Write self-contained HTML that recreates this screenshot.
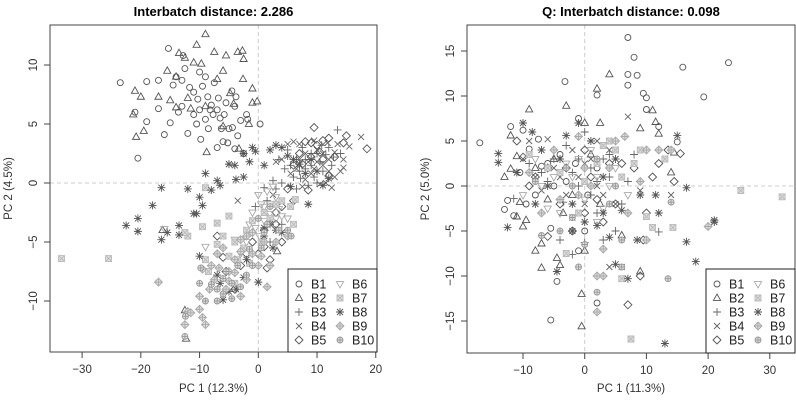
<!DOCTYPE html>
<html><head><meta charset="utf-8"><style>
html,body{margin:0;padding:0;background:#fff;}
svg{display:block;font-family:"Liberation Sans",Arial,sans-serif;}
</style></head><body>
<svg id="chart" width="796" height="405" viewBox="0 0 796 405"></svg>
<script>
const batchNames=["B1","B2","B3","B4","B5","B6","B7","B8","B9","B10"];
const leftTitle="Interbatch distance: 2.286";
const rightTitle="Q: Interbatch distance: 0.098";
const leftXTicks=[-30,-20,-10,0,10,20];
const leftYTicks=[-10,-5,0,5,10];
const rightXTicks=[-10,0,10,20,30];
const rightYTicks=[-15,-10,-5,0,5,10,15];
const leftB1=[[-23.5,8.5],[-21,6],[-20.5,2.1],[-19,8.6],[-19,5.2],[-17,6.3],[-17,8.7],[-16,4.1],[-15,5.1],[-15.3,11.4],[-14,9],[-13,8.7],[-13,6.5],[-12.8,10.8],[-12,4.2],[-11.7,8.1],[-11,7.7],[-10,9.4],[-10,6.2],[-9.8,3.7],[-9.5,8.2],[-9,5.4],[-8.5,4.6],[-8,6.6],[-7.5,8.5],[-7,6.2],[-6.5,5.5],[-6,3.5],[-5.5,6.8],[-5,4.6],[-4.5,7.8],[-4,6.5],[-3.5,4],[-3,5.3],[-2.5,2.5],[-2,5.8],[-1.8,5.4],[0.3,5],[-6.3,4.6],[-10.5,5],[-8.6,7.3],[-11,5.8],[-13.6,6],[-12.5,9.7],[-7,3],[-4,2.9],[-5.2,3.4],[-9,9],[-7.7,5.8],[-6.8,7.2],[-14.5,8.3],[-10.3,7.1],[-8.2,6.2],[-5.8,5.8],[-4.4,4.7],[-3.8,7.3]];
const leftB2=[[-9,12.6],[-10.5,11.7],[-7.5,11.1],[-5.5,10.8],[-3.5,11.1],[-2.7,11.2],[-2.5,10.5],[-12.5,10.6],[-11,10.2],[-15.5,9.5],[-14,9],[-12,7.2],[-7,8.8],[-6,9.5],[-2.6,8.8],[-1,8],[-21,7.8],[-20,7.3],[-17,7.3],[-15,7],[-14,6.4],[-11.5,6.3],[-9,6.5],[-4.8,7.6],[-4.2,6.7],[-1,6.8],[-0.2,6.9],[-21.3,5.8],[-20.8,3.9],[-19.5,4.4],[-8.8,2.6],[-3.3,2.9],[-6,4.8],[-13.5,11],[-12.5,-10.8],[-12.3,-13.2],[3.2,-5.8],[-16.3,-4],[-9.7,10.1],[-1.6,5]];
const leftB3=[[13.5,4.5],[12,3],[10,2.5],[9,1.5],[8,2],[7,1],[6,0.5],[5,2.8],[4,0],[3,-0.5],[2.5,0.2],[1,-0.4],[-0.5,-2],[11,1],[12.5,1.5],[14,2.5],[9.5,0.5],[7.5,3],[6.5,-0.5],[3.5,2],[10.8,3.2],[8.5,-0.2],[2,-5],[4,-3.5],[5.5,1.5],[9,2.5],[10.5,1.8],[11.5,2.4],[8,1.2],[6.5,2],[12.8,2.2],[7.2,0.4],[10,0],[4.5,1.2],[1.5,-1.5]];
const leftB4=[[17.5,3.9],[15.5,3.1],[14.5,1.3],[13,0.5],[12,2],[11,1.5],[10,2.8],[9,0.8],[8,2.5],[7,3.3],[6,3.5],[5,3.3],[4,2],[3,1.8],[12.5,-0.4],[13.5,3.3],[11.5,0],[9.5,3.6],[-3.5,-1.5],[7.5,-0.3],[10.5,-0.1],[14,1],[6.5,1.2],[8.5,1.8],[2.5,-1],[11,2.5],[12,1],[9.5,1.2],[8,0.3],[13,2.6],[10,1.8],[7,2],[5.5,0.8],[14.5,2],[11.8,3.4]];
const leftB5=[[18.5,2.9],[15,4],[12,3.8],[9.5,4.7],[8,3.5],[10,3.2],[11,2],[7,2.5],[6,1.5],[5,-0.5],[6,-1.5],[4,-2],[3,-2.5],[3,-3.5],[1,-4],[-1,-5],[-2,-6],[2,-6.5],[0,-6],[-5.5,-7.5],[4,-5],[13,2.2],[8.5,-0.6],[14.5,3.4],[9,2.2],[-7,-4.5],[-4,-9],[1.5,-7.2],[10.5,2.6],[12,0.6],[9,3.4],[7.5,1.6],[11,3.6],[-3,-7],[-6,-6.3],[1,-5.4]];
const leftB6=[[1.5,-0.7],[0,-1],[-1,-2.5],[2,-1.8],[3,-3],[1,-3.2],[0.2,-4.5],[-2,-5],[-1.5,-3.5],[3.5,-2.2],[5,-3],[2.5,-0.3],[-4,-4.8],[-9,-5.4],[-16,-3.9],[0.5,-1.8],[2,-2.6],[1,-2],[4,-2.8],[-0.5,-3.8],[3,-1.2],[-3,-6]];
const leftB7=[[-33.5,-6.4],[-25.5,-6.4],[-9,-0.4],[-9.5,-3.7],[-12,-4.5],[-9,-6.5],[-5,-2.8],[-7,-3.4],[-6,-4.5],[-4,-5],[-2,-4],[-1,-3.2],[1,-2.5],[3,-1.8],[5.5,-2],[6,-3.5],[-4,-8.5],[-8.5,-7.5],[6.3,-1.4],[-12.5,-4.2],[-3.5,-6.5],[0.5,-5],[-1.5,-6.8],[2,-3],[-2.5,-5.5],[-5,-6.2],[4,-1.5],[-7,-5.2]];
const leftB8=[[-22.5,-3.6],[-20.5,-3],[-20.5,-4.1],[-18,-1.9],[-16.5,-0.4],[-16.5,-4.8],[-15.5,-4.2],[-13.5,-3.6],[-13.5,-4.4],[-12,-0.5],[-11,-2.6],[-10.5,-2.6],[-10,-1.2],[-9.5,-1.9],[-9,0.8],[-8,-0.6],[-7,0.2],[-6.5,-0.2],[-5,1.6],[-4,1.5],[-3.8,0.3],[-2.5,2.5],[-2.5,0.5],[-1.5,1.8],[-1,3],[-0.5,2.7],[1,1.5],[2,2.8],[3,3.2],[4,3],[5,2.3],[8.5,-1.8],[11,-0.2],[-10,-6.2],[-7,-7.8],[-6,-9.9],[-3.8,-9],[-2.5,-8],[0,-8.4],[1,-4.5],[2,-3.5],[3,-4],[4,-4.2],[2.5,-5.5],[-2,-6.5],[1,-3.8],[6,2],[7,1.6],[9,2],[10,1],[12,0.4],[8,0.8],[5.5,-0.3],[-6.5,-8.5],[-5,-9.2]];
const leftB9=[[-17,-8.4],[-12.5,-12],[-12,-10.9],[-11.5,-11],[-10,-10.7],[-9.5,-11.4],[-9,-12],[-10,-9.6],[-9.5,-7.3],[-8,-7],[-7,-6],[-6,-5.5],[-5,-7.5],[-4,-6.5],[-3,-5.8],[-2,-4.5],[-1,-6],[0.5,-6.2],[1.5,-8.8],[2,-7],[3,-5],[5,-4.5],[-3,-9.6],[-5.5,-9],[-7.5,-8.2],[-2,-8.2],[0,-7],[-6.7,-7.2],[-8.3,-9],[-5,-8.3],[-4,-7.6],[-1,-4.2],[1,-5],[-3,-4.8]];
const leftB10=[[-12.4,-11.3],[-12.5,-13],[-9.8,-7.2],[-10,-8.5],[-8,-8.6],[-7,-9],[-6,-8.1],[-5.5,-7.5],[-4.5,-8.5],[-3.5,-7],[-2,-7.8],[-1,-7],[0.5,-5.5],[1.5,-3.5],[3.5,-4],[5,-4],[5.6,-4.5],[2,-2],[-7,-10],[-9,-10],[-4.5,-9.8],[0,-3],[-6,-9.4],[-3,-8.8],[-1.5,-5.6],[1,-4.2]];
const rightB1=[[-17,4.8],[-12,6.6],[-12.5,-1.6],[-11.5,-3.3],[-10,6.2],[-9,4.1],[-7.5,5.2],[-5.5,-4.7],[-4.5,-10.6],[-5.5,-14.9],[-3.2,11.6],[-1,7.5],[2,10.1],[2,-13],[7,16.5],[7,12.4],[7,11.2],[8,14.3],[8.5,12.3],[9.5,10.3],[10,9.8],[10,8.5],[12,6.6],[15.9,13.2],[19.3,9.9],[23.3,13.7],[15,4.9],[-1,-7.2],[0,-5],[-13,-2.6],[-8,-1],[-3,0.5],[2,2],[-6,2.5],[-10.5,1.5],[-7,2.2],[-4,3.5],[-1.5,2.5],[0.5,-1],[-9.5,-2],[-5,0]];
const rightB2=[[-9,8.5],[-3,8.9],[4,12.4],[2,10.8],[0,7],[2.5,7],[9,6.4],[11,8.4],[12,5.8],[11.5,7.1],[-12,5.6],[-11,3.3],[-12,1.9],[-13,1],[-10.5,-1.8],[-11,-3.4],[-9.5,-3.8],[-10,-4.5],[-8,-7.2],[-7,-6.4],[-7,-9.1],[-4.5,-8],[-4,-8.8],[0,-7.2],[-0.5,-12],[-0.5,-15.6],[9,-9.5],[6,-5.5],[14,1.5],[14.5,3.7],[2.5,-2],[-8,2],[-5,3],[-2,-1],[-6,-1.5],[1,3.5],[-3.5,-3]];
const rightB3=[[-11.5,-1.4],[-7,1.5],[-3,4.5],[-1,0],[0,6],[1,2],[3,3],[4,1],[5,-5],[8,3.5],[12,-5.1],[-4,-6],[-2,-7.6],[0,-6.3],[2,-3],[6,-2],[-5,3],[-2,1.5],[1,-1],[3,-6],[7,0.5],[-9,2.5],[-6,0.5],[-1,3],[2,0.5],[-3.5,-1.8],[4,3.5]];
const rightB4=[[-9,5],[-6,5.2],[-5,2],[-2,4],[-1,1],[1,3],[2,5],[4,4],[5,-2],[7,7.7],[4,-9],[9,-0.5],[14,-1],[-3,-1],[-8,1],[0,-2],[6,-9],[2,0],[-10,3],[-7,-0.5],[-4,1],[0,2.5],[3,-1],[-2,-3.5]];
const rightB5=[[-11,5],[-10,3.2],[-8,1],[-6,-5.6],[-4,-2],[-2,-5],[0,-3],[1,1],[3,-4],[5,-2],[6,2.5],[8,2],[10,-3],[12,2.5],[13.5,4],[15.5,3.6],[9.5,-6],[7,-13.2],[9,-10],[11,1],[14.5,0.5],[-6,2],[-9,0],[-3,2],[0,4],[2,-1.5],[4,2.5]];
const rightB6=[[-10,-1],[-7,0],[-4,-3],[-2,1],[0,-1.5],[2,1],[4,0],[-1,3],[3,-2.5],[5,2],[-5,1],[7,-1],[-8,3],[-3,2.5],[1,4],[-6,-2.5],[2,-4]];
const rightB7=[[-3,-7.5],[-6,2],[4,5],[5,4],[8,2.5],[9,4],[10,-3.4],[11,-4.6],[14.3,-4.6],[25.3,-0.5],[32,-1.2],[7.5,-17],[6,-10.3],[13,3],[-1,-3],[2,2.5],[-9,3.5],[-4,1.5],[0,0.5],[3,4.5],[6,1]];
const rightB8=[[-14,3.6],[-14,2.6],[-12.5,-4.6],[-10,7],[-8.5,6],[-7,4],[-3,5.6],[-1,7],[-2,-2],[0,-4],[2,-4.4],[4,-5.7],[5,-8.7],[7,-10.3],[8.5,-6],[9,-1],[11.5,-1],[12,-3],[15,5.6],[16.5,-0.2],[16.5,-6.2],[18,-8.4],[21,-3.8],[21,-4],[13,-17.5],[-4.5,-9.5],[6,-2.7],[-6,0],[3,1],[-11,1.5],[-8,-2],[-4,3],[-2,-5],[1,5],[3,-3],[5,3]];
const rightB9=[[-7,-3],[-4,-1.5],[-1,5.5],[1,0],[2,-10],[2,-14],[3,-10],[5,5],[6.5,5.5],[10,4],[9,0.5],[10,-6],[12,4],[14,4],[20,-4.5],[3,-7],[-1,-1],[-9,1.5],[-5,4],[0,2],[4,2],[7,-3]];
const rightB10=[[-7,-5.5],[-4,-5],[-2,0],[0,-6.5],[-1,-9],[2,-11.8],[4,-2],[6,-6],[14,-1.8],[13.5,-10.3],[6,-9],[-2,-3.5],[-8,0.5],[-3,2],[2,3],[5,0]];

const NS="http://www.w3.org/2000/svg";
const svg=document.getElementById('chart');
const colors=["#555","#555","#666","#666","#555","#aaa","#bbb","#555","#aaa","#999"];
function mk(tag,attrs,parent){const e=document.createElementNS(NS,tag);for(const k in attrs)e.setAttribute(k,attrs[k]);(parent||svg).appendChild(e);return e;}
function sym(g,type,cx,cy,col){
  const s=3,st={stroke:col,fill:"none","stroke-width":0.9};
  let e;
  switch(type){
    case 0:e=mk('circle',Object.assign({cx:cx,cy:cy,r:3},st),g);break;
    case 1:e=mk('path',Object.assign({d:`M${cx},${cy-4}L${cx+3.6},${cy+2.4}L${cx-3.6},${cy+2.4}Z`},st),g);break;
    case 2:e=mk('path',Object.assign({d:`M${cx-4},${cy}H${cx+4}M${cx},${cy-4}V${cy+4}`},st),g);break;
    case 3:e=mk('path',Object.assign({d:`M${cx-s},${cy-s}L${cx+s},${cy+s}M${cx-s},${cy+s}L${cx+s},${cy-s}`},st),g);break;
    case 4:e=mk('path',Object.assign({d:`M${cx},${cy-4}L${cx+4},${cy}L${cx},${cy+4}L${cx-4},${cy}Z`},st),g);break;
    case 5:e=mk('path',Object.assign({d:`M${cx},${cy+4}L${cx+3.6},${cy-2.4}L${cx-3.6},${cy-2.4}Z`},st),g);break;
    case 6:e=mk('path',Object.assign({d:`M${cx-3},${cy-3}h6v6h-6ZM${cx-3},${cy-3}L${cx+3},${cy+3}M${cx-3},${cy+3}L${cx+3},${cy-3}`},st,{fill:"#ddd"}),g);break;
    case 7:e=mk('path',Object.assign({d:`M${cx-4},${cy}H${cx+4}M${cx},${cy-4}V${cy+4}M${cx-3},${cy-3}L${cx+3},${cy+3}M${cx-3},${cy+3}L${cx+3},${cy-3}`},st),g);break;
    case 8:e=mk('path',Object.assign({d:`M${cx},${cy-4}L${cx+4},${cy}L${cx},${cy+4}L${cx-4},${cy}ZM${cx-4},${cy}H${cx+4}M${cx},${cy-4}V${cy+4}`},st,{fill:"#ddd"}),g);break;
    case 9:mk('circle',Object.assign({cx:cx,cy:cy,r:3},st,{fill:"#ddd"}),g);e=mk('path',Object.assign({d:`M${cx-3},${cy}H${cx+3}M${cx},${cy-3}V${cy+3}`},st),g);break;
  }
  return e;
}
function panel(cfg){
  const g=mk('g',{});
  
  
  const sx=v=>cfg.x0+(v-cfg.xa)*cfg.kx, sy=v=>cfg.y0-(v-cfg.ya)*cfg.ky;
  const t=mk('text',{x:(cfg.L+cfg.R)/2,y:16,'text-anchor':'middle','font-size':13,'font-weight':'bold',fill:'#000'},g);t.textContent=cfg.title;
  
  const ref=mk('path',{d:`M${sx(0)},${cfg.T}V${cfg.B}M${cfg.L},${sy(0)}H${cfg.R}`,stroke:'#ccc','stroke-dasharray':'4,3',fill:'none'},g);
  
  const pts=mk('g',{},g);
  cfg.data.forEach((arr,i)=>{
    const bg=mk('g',{},pts);
    
    
    arr.forEach(p=>sym(bg,i,sx(p[0]),sy(p[1]),colors[i]));
  });
  const xa=mk('g',{},g);
  mk('path',{d:`M${sx(cfg.xt[0])},${cfg.B}H${sx(cfg.xt[cfg.xt.length-1])}`,stroke:'#444',fill:'none'},xa);
  cfg.xt.forEach(v=>{mk('path',{d:`M${sx(v)},${cfg.B}v6`,stroke:'#444'},xa);
    const tx=mk('text',{x:sx(v),y:cfg.B+21,'text-anchor':'middle','font-size':11.5,fill:'#333'},xa);tx.textContent=v<0?'\u2212'+(-v):v;});
  const xl=mk('text',{x:(cfg.L+cfg.R)/2,y:392,'text-anchor':'middle','font-size':11.5,fill:'#333'},g);xl.textContent=cfg.xlab;
  
  const ya=mk('g',{},g);
  mk('path',{d:`M${cfg.L},${sy(cfg.yt[0])}V${sy(cfg.yt[cfg.yt.length-1])}`,stroke:'#444',fill:'none'},ya);
  cfg.yt.forEach(v=>{mk('path',{d:`M${cfg.L},${sy(v)}h-6`,stroke:'#444'},ya);
    const X=cfg.L-13;const tx=mk('text',{x:X,y:sy(v),'text-anchor':'middle','font-size':11.5,fill:'#333',transform:`rotate(-90 ${X} ${sy(v)})`},ya);tx.textContent=v<0?'\u2212'+(-v):v;});
  const yx=cfg.L-38,ym=(cfg.T+cfg.B)/2;
  const yl=mk('text',{x:yx,y:ym,'text-anchor':'middle','font-size':11.5,fill:'#333',transform:`rotate(-90 ${yx} ${ym})`},g);yl.textContent=cfg.ylab;
  
  const box=mk('rect',{x:cfg.L,y:cfg.T,width:cfg.R-cfg.L,height:cfg.B-cfg.T,fill:'none',stroke:'#444'},g);
  
  const lg=mk('g',{},g);
  mk('rect',{x:cfg.lx,y:269,width:cfg.R-cfg.lx,height:cfg.B-269,fill:'#fff',stroke:'#222'},lg);
  batchNames.forEach((n,i)=>{
    const col=i<5?0:1,row=i%5;const x=cfg.lx+11+col*41,y=284+row*14;
    const it=mk('g',{},lg);
    sym(it,i,x,y,colors[i]);
    const tt=mk('text',{x:x+12,y:y+4.5,'font-size':12.5,fill:'#222'},it);tt.textContent=n;
  });
}
panel({name:'left-panel-raw',title:leftTitle,L:50,R:377,T:25,B:352,x0:258.3,xa:0,kx:5.873,y0:183,ya:0,ky:11.8,
  xt:leftXTicks,yt:leftYTicks,xlab:'PC 1 (12.3%)',ylab:'PC 2 (4.5%)',lx:288,
  data:[leftB1,leftB2,leftB3,leftB4,leftB5,leftB6,leftB7,leftB8,leftB9,leftB10]});
panel({name:'right-panel-corrected',title:rightTitle,L:467,R:795,T:25,B:353,x0:584.7,xa:0,kx:6.17,y0:186,ya:0,ky:9,
  xt:rightXTicks,yt:rightYTicks,xlab:'PC 1 (11.3%)',ylab:'PC 2 (5.0%)',lx:706,
  data:[rightB1,rightB2,rightB3,rightB4,rightB5,rightB6,rightB7,rightB8,rightB9,rightB10]});
</script>
</body></html>
